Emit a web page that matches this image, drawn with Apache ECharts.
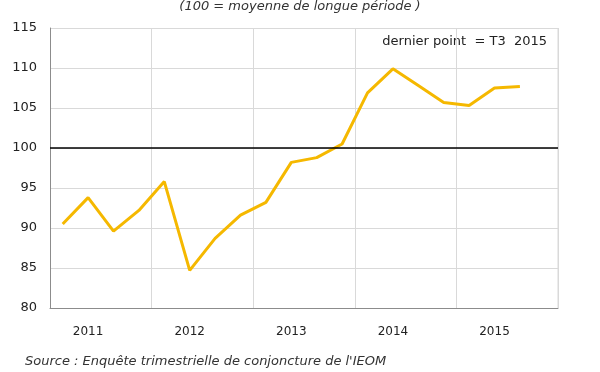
<!DOCTYPE html>
<html><head><meta charset="utf-8">
<script src="https://cdn.jsdelivr.net/npm/echarts@6/dist/echarts.min.js"></script>
<style>html,body{margin:0;padding:0;background:#fff}#c{width:600px;height:372px}</style>
</head><body><div id="c"></div>
<script>
const years = ['2011','2012','2013','2014','2015'];
const quarters = ['T1','T2','T3','T4'];
const values = [90.5, 93.8, 89.6, 92.2, 95.8, 84.7, 88.7, 91.6, 93.2, 98.2, 98.8, 100.5, 106.9, 109.9, 107.8, 105.7, 105.3, 107.5, 107.7];
const yTicks = [80, 85, 90, 95, 100, 105, 110, 115];
const refValue = 100;
const subtitle = '(100 = moyenne de longue période )';
const note = 'dernier point  = T3  2015';
const source = "Source : Enquête trimestrielle de conjoncture de l'IEOM";

const categories = [];
years.forEach(y => quarters.forEach(q => categories.push(q + ' ' + y)));

const chart = echarts.init(document.getElementById('c'));
chart.setOption({
  animation: false,
  textStyle: { fontFamily: 'DejaVu Sans' },
  grid: { left: 50, right: 42, top: 28, bottom: 64 },
  xAxis: {
    type: 'category',
    data: categories,
    boundaryGap: true,
    axisLine: { lineStyle: { color: '#8c8c8c', width: 1 } },
    axisTick: { show: false },
    axisLabel: {
      interval: 0,
      margin: 18,
      fontSize: 12,
      color: '#222',
      formatter: (v, i) => (i % 4 === 1 ? v.split(' ')[1] : '')
    },
    splitLine: { show: true, interval: (i) => i % 4 === 0, lineStyle: { color: '#d9d9d9', width: 1 } }
  },
  yAxis: {
    type: 'value',
    min: yTicks[0],
    max: yTicks[yTicks.length - 1],
    interval: 5,
    axisLine: { show: true, lineStyle: { color: '#8c8c8c', width: 1 } },
    axisTick: { show: false },
    axisLabel: { fontSize: 13, color: '#222', margin: 13 },
    splitLine: { lineStyle: { color: '#d9d9d9', width: 1 } }
  },
  series: [{
    type: 'line',
    data: values,
    symbol: 'none',
    lineStyle: { color: '#f5b800', width: 3 },
    markLine: {
      silent: true,
      symbol: 'none',
      label: { show: false },
      lineStyle: { color: '#000', width: 1.5, type: 'solid' },
      data: [{ yAxis: refValue }]
    },
    z: 3
  }],
  graphic: [
    { type: 'text', left: 'center', top: 0,
      style: { text: subtitle, font: 'italic 13px "DejaVu Sans"', fill: '#333' } },
    { type: 'text', right: 53, top: 35,
      style: { text: note, font: '13px "DejaVu Sans"', fill: '#222' } },
    { type: 'text', left: 25, top: 355,
      style: { text: source, font: 'italic 13px "DejaVu Sans"', fill: '#333' } },
    { type: 'line', shape: { x1: 558, y1: 28, x2: 558, y2: 308 },
      style: { stroke: '#d9d9d9', lineWidth: 1 } }
  ]
});
</script></body></html>
